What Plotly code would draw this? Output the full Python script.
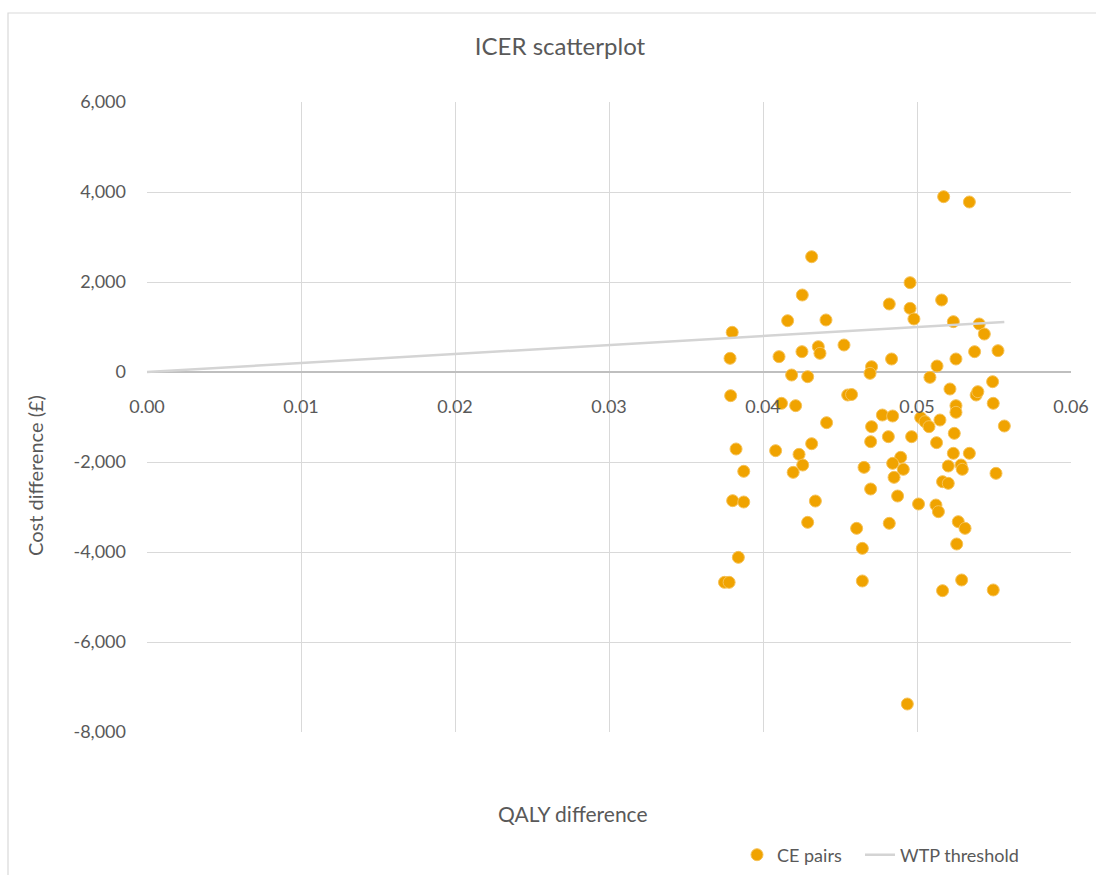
import plotly.graph_objects as go

# Probabilistic sensitivity analysis: incremental QALYs vs incremental cost
qaly_diff = [
    0.04316, 0.04255, 0.04160, 0.04409, 0.03800, 0.03786, 0.04104, 0.04253, 0.04359, 0.04370,
    0.04526, 0.04186, 0.04290, 0.05173, 0.05340, 0.04955, 0.04820, 0.04955, 0.04980, 0.05160,
    0.05236, 0.05404, 0.05437, 0.04835, 0.05374, 0.05526, 0.05253, 0.05130, 0.04705, 0.04695,
    0.05084, 0.05491, 0.03790, 0.04212, 0.04120, 0.04413, 0.04550, 0.04575, 0.03825, 0.04082,
    0.04316, 0.04234, 0.04258, 0.04196, 0.03875, 0.03803, 0.03875, 0.04340, 0.04290, 0.03840,
    0.03750, 0.03780, 0.04608, 0.04645, 0.04645, 0.04656, 0.05214, 0.05384, 0.05395, 0.05495,
    0.05567, 0.05253, 0.05253, 0.05149, 0.05024, 0.05052, 0.05078, 0.04775, 0.04842, 0.04705,
    0.04699, 0.04814, 0.04965, 0.05127, 0.05242, 0.05236, 0.05340, 0.05203, 0.05286, 0.05294,
    0.05513, 0.04894, 0.04842, 0.04911, 0.04851, 0.05166, 0.05203, 0.04699, 0.04874, 0.05010,
    0.05123, 0.05139, 0.04820, 0.05268, 0.05312, 0.05258, 0.05290, 0.05166, 0.05495, 0.04937,
]
cost_diff = [
    2562, 1711, 1140, 1156, 882, 304, 341, 452, 563, 415,
    600, -67, -104, 3896, 3778, 1985, 1511, 1415, 1178, 1600,
    1119, 1067, 844, 289, 452, 474, 289, 133, 118, -30,
    -119, -215, -526, -748, -696, -1126, -511, -500, -1711, -1748,
    -1593, -1830, -2067, -2230, -2207, -2859, -2889, -2867, -3341, -4119,
    -4674, -4674, -3474, -3919, -4644, -2119, -378, -511, -437, -696,
    -1200, -748, -896, -1067, -1015, -1104, -1215, -956, -978, -1215,
    -1548, -1437, -1437, -1570, -1363, -1807, -1807, -2089, -2067, -2163,
    -2252, -1896, -2030, -2163, -2341, -2437, -2474, -2600, -2756, -2933,
    -2956, -3104, -3363, -3326, -3474, -3822, -4622, -4859, -4844, -7378,
]

# Willingness-to-pay threshold of £20,000 per QALY
wtp_per_qaly = 20000
wtp_x = [0.0, max(qaly_diff)]
wtp_y = [wtp_per_qaly * q for q in wtp_x]

x_ticks = [0.00, 0.01, 0.02, 0.03, 0.04, 0.05, 0.06]
x_tick_text = ["0.00", "0.01", "0.02", "0.03", "0.04", "0.05", "0.06"]
y_ticks = [6000, 4000, 2000, 0, -2000, -4000, -6000, -8000]
y_tick_text = ["6,000", "4,000", "2,000", "0", "-2,000", "-4,000", "-6,000", "-8,000"]

FONT = "Lato, 'Open Sans', sans-serif"
TEXT = "#595959"
GRID = "#d9d9d9"

W, H = 1096, 875
L, R, T, B = 147, 25, 102, 143
y_min, y_max = -8000, 6000
pw, ph = W - L - R, H - T - B


def px_to_paper(px_x, px_y):
    """Convert page pixel coordinates to plot-area paper fractions."""
    return (px_x - L) / pw, (H - B - px_y) / ph


fig = go.Figure()
fig.add_trace(go.Scatter(
    x=qaly_diff, y=cost_diff, mode="markers", name="CE pairs", legend="legend",
    marker=dict(color="#F0A300", size=12, line=dict(color="#F6C257", width=1)),
))
fig.add_trace(go.Scatter(
    x=wtp_x, y=wtp_y, mode="lines", name="WTP threshold", legend="legend2",
    line=dict(color="#d4d4d4", width=2.5),
))

# x-axis labels sit at the y = 0 crossing, as in a spreadsheet chart
zero_pos = (0 - y_min) / (y_max - y_min)

ytitle_x, ytitle_y = px_to_paper(35, 476)
xtitle_x, xtitle_y = px_to_paper(573, 813)

legend_style = dict(orientation="h", xanchor="left", xref="container",
                    y=1 - 855 / H, yanchor="middle", yref="container",
                    font=dict(size=18, color=TEXT, family=FONT),
                    bgcolor="rgba(0,0,0,0)")

fig.update_layout(
    width=W, height=H,
    margin=dict(l=L, r=R, t=T, b=B, autoexpand=False),
    paper_bgcolor="white", plot_bgcolor="white",
    font=dict(family=FONT, color=TEXT, size=17),
    title=dict(text="ICER scatterplot", x=560 / W, xref="container", xanchor="center",
               y=1 - 47 / H, yref="container", yanchor="middle",
               font=dict(size=24, color=TEXT, family=FONT)),
    xaxis=dict(range=[0, 0.06], tickvals=x_ticks, ticktext=x_tick_text,
               showgrid=True, gridcolor=GRID, gridwidth=1, zeroline=False,
               showline=False, ticks="", anchor="free", position=zero_pos,
               automargin=False, ticklabelstandoff=22,
               tickfont=dict(size=18, color=TEXT)),
    yaxis=dict(range=[y_min, y_max], tickvals=y_ticks, ticktext=y_tick_text,
               showgrid=True, gridcolor=GRID, gridwidth=1,
               zeroline=True, zerolinecolor="#bfbfbf", zerolinewidth=1.5,
               showline=False, ticks="", ticklabelstandoff=20, automargin=False,
               tickfont=dict(size=18, color=TEXT)),
    showlegend=True,
    legend=dict(x=737 / W, **legend_style),
    legend2=dict(x=860 / W, **legend_style),
    annotations=[
        dict(text="Cost difference (£)", textangle=-90, x=ytitle_x, y=ytitle_y,
             xref="paper", yref="paper", xanchor="center", yanchor="middle",
             showarrow=False, font=dict(size=20, color=TEXT, family=FONT)),
        dict(text="QALY difference", x=xtitle_x, y=xtitle_y,
             xref="paper", yref="paper", xanchor="center", yanchor="middle",
             showarrow=False, font=dict(size=21, color=TEXT, family=FONT)),
    ],
)

# chart-area frame
fx0, fy0 = px_to_paper(8, H + 20)
fx1, fy1 = px_to_paper(W + 20, 13)
fig.add_shape(type="rect", xref="paper", yref="paper",
              x0=fx0, x1=fx1, y0=fy0, y1=fy1,
              line=dict(color=GRID, width=1.2), fillcolor="rgba(0,0,0,0)", layer="below")

fig.write_html("out.html")
